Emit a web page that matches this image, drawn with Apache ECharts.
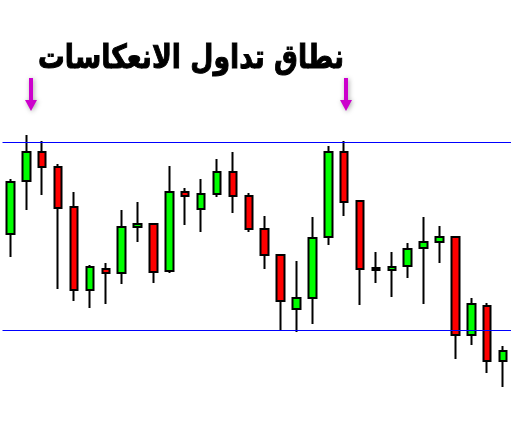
<!DOCTYPE html>
<html>
<head>
<meta charset="utf-8">
<script src="https://cdn.jsdelivr.net/npm/echarts@6/dist/echarts.min.js"></script>
<style>
  html, body { margin: 0; padding: 0; background: #fff; }
  #chart { width: 511px; height: 434px; }
</style>
</head>
<body>
<div id="chart"></div>
<script>
// candle data (arbitrary price units)
const sessions = Array.from({ length: 32 }, (_, i) => 'S' + (i + 1));
const opens  = [200, 253, 282, 267, 227, 144, 165, 161, 207, 210, 163, 242, 225, 240, 262, 238,
                205, 179, 125, 136, 197, 282, 233, 166, 164, 168, 186, 192, 197, 99, 128, 73];
const closes = [252, 282, 267, 226, 144, 167, 161, 207, 210, 162, 242, 238, 240, 262, 238, 205,
                179, 133, 136, 196, 282, 232, 165, 164, 167, 185, 192, 197, 99, 130, 73, 83];
const lows   = [177, 224, 239, 145, 133, 126, 130, 150, 192, 151, 161, 209, 202, 237, 221, 202,
                165, 104, 102, 110, 189, 218, 129, 151, 137, 156, 130, 171, 75, 89, 61, 47];
const highs  = [255, 299, 293, 270, 242, 169, 171, 224, 232, 211, 268, 246, 255, 275, 282, 241,
                218, 179, 173, 217, 288, 293, 234, 182, 182, 191, 217, 208, 197, 136, 131, 88];

// trading range bounds
const rangeTop = 292;
const rangeBottom = 104;

const titleText = 'نطاق تداول الانعكاسات';

const candles = sessions.map((_, i) => [opens[i], closes[i], lows[i], highs[i]]);

// down arrow shape used for the two markers
function arrow(cx) {
    return {
        type: 'polygon',
        shape: {
            points: [
                [cx - 2, 78], [cx + 2, 78], [cx + 2, 100], [cx + 6, 100],
                [cx, 111], [cx - 6, 100], [cx - 2, 100]
            ]
        },
        style: {
            fill: '#cc00cc',
            shadowBlur: 5,
            shadowColor: 'rgba(0,0,0,0.35)',
            shadowOffsetX: 1,
            shadowOffsetY: 1
        }
    };
}

const chart = echarts.init(document.getElementById('chart'));
chart.setOption({
    animation: false,
    backgroundColor: '#fff',
    grid: { left: 2.5, top: 0, width: 512, height: 434 },
    xAxis: {
        type: 'category',
        data: sessions,
        show: false
    },
    yAxis: {
        type: 'value',
        min: 0,
        max: 434,
        show: false
    },
    graphic: [
        {
            type: 'text',
            x: 38,
            y: 43,
            scaleX: 0.81,
            style: {
                text: titleText,
                fill: '#000',
                stroke: '#000',
                lineWidth: 1,
                font: 'bold 33px "DejaVu Sans"'
            }
        },
        arrow(31),
        arrow(346)
    ],
    series: [{
        type: 'candlestick',
        data: candles,
        barWidth: 8,
        itemStyle: {
            color: '#00ff00',
            color0: '#ff0000',
            borderColor: '#000',
            borderColor0: '#000',
            borderWidth: 2
        },
        markLine: {
            silent: true,
            symbol: 'none',
            label: { show: false },
            lineStyle: { color: '#0000ff', width: 1, type: 'solid' },
            data: [{ yAxis: rangeTop }, { yAxis: rangeBottom }]
        }
    }]
});
</script>
</body>
</html>
